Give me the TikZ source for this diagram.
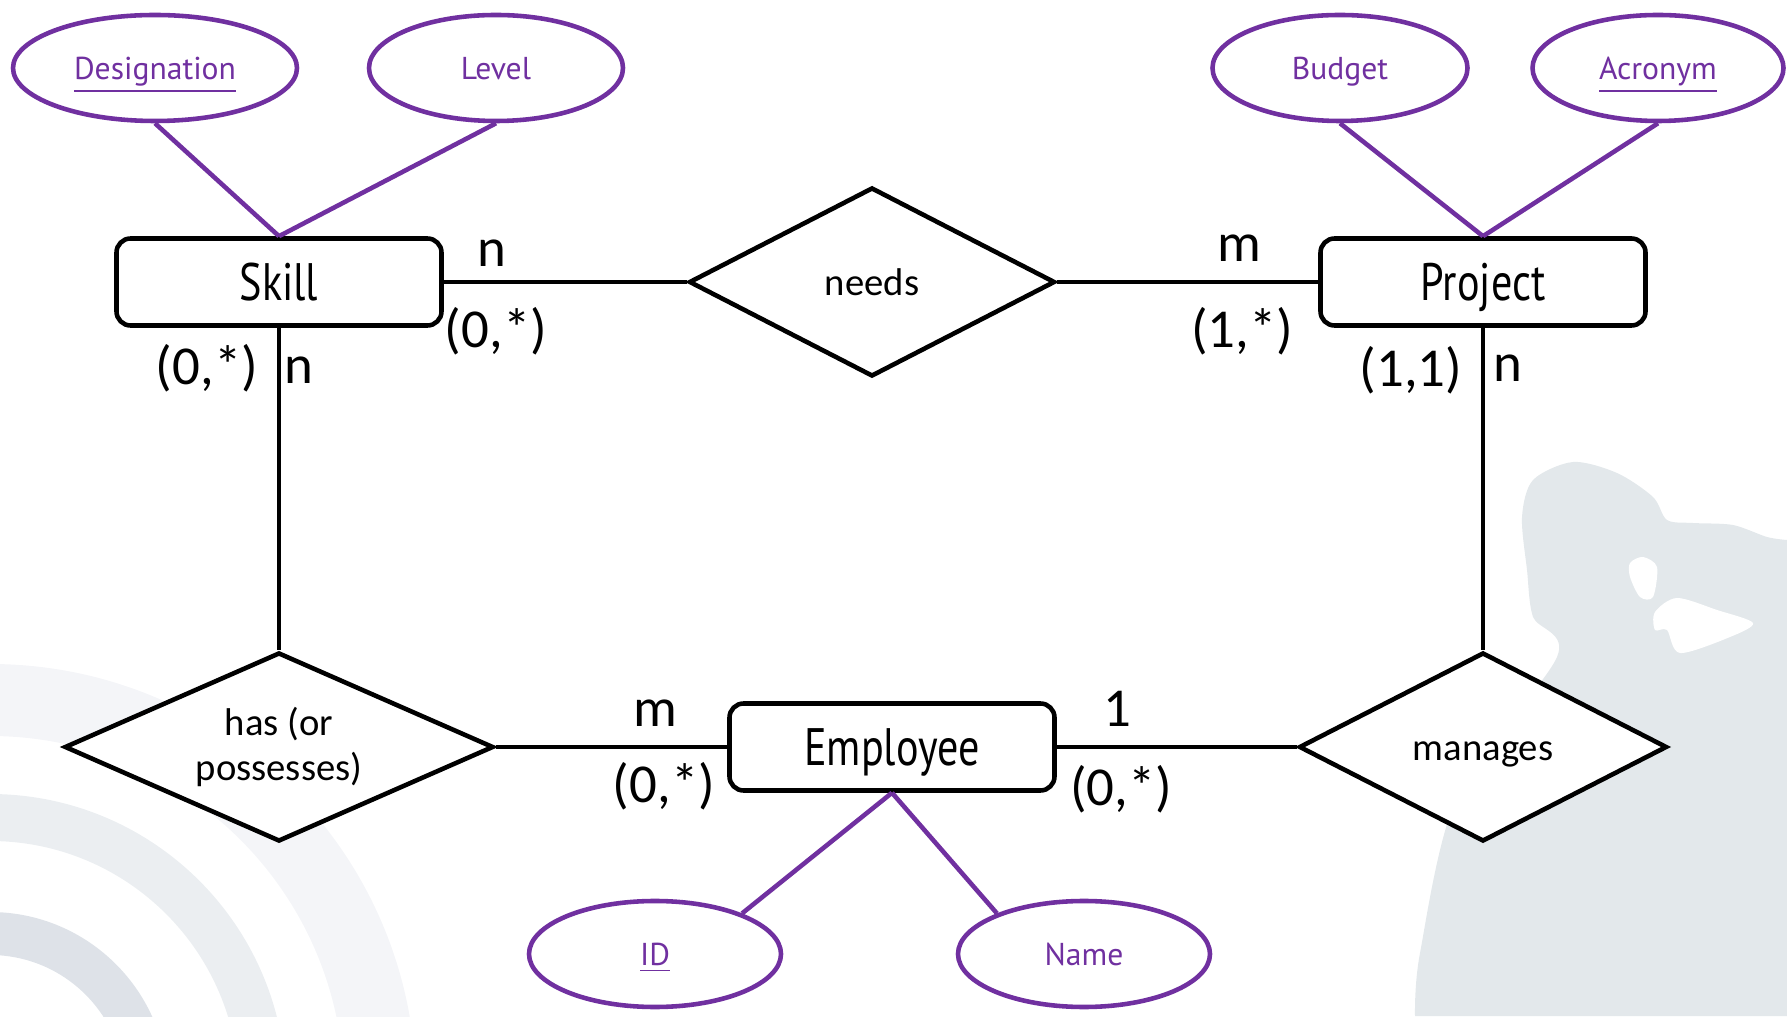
\documentclass[tikz,border=0pt]{standalone}
\usepackage{fontspec}
\usepackage{graphicx}
\setmainfont{PT Sans}
\newfontfamily\calfont{Carlito}
\usetikzlibrary{shapes.geometric,positioning}
\definecolor{erpurple}{HTML}{7030A0}
\definecolor{silgray}{HTML}{E3E8EB}
\definecolor{arcpale}{HTML}{F4F5F8}
\definecolor{arcmid}{HTML}{EBEEF1}
\definecolor{arcdark}{HTML}{DEE2E8}
\newcommand{\narrowtext}[1]{\scalebox{0.8}[1]{#1}}
\tikzset{
  entity/.style={
      draw, line width=1.3pt, rounded corners=4pt, fill=white,
      minimum width=3.25cm, minimum height=0.87cm,
      text height=0.38cm, text depth=0pt,
      font=\fontsize{15}{18}\selectfont
    },
  relship/.style={
      draw, diamond, line width=1.3pt, fill=white, inner sep=0pt,
      align=center, font=\calfont\fontsize{11}{12.6}\selectfont
    },
  attr/.style={
      draw=erpurple, ellipse, line width=1.3pt, fill=white, text=erpurple,
      minimum height=1.06cm, text height=0.30cm, text depth=0.07cm,
      font=\fontsize{9}{11}\selectfont
    },
  card/.style={font=\calfont\fontsize{15.6}{18}\selectfont, inner sep=0pt},
  link/.style={line width=1.2pt},
  attlink/.style={draw=erpurple, line width=1.3pt}
}
\begin{document}
\begin{tikzpicture}
\useasboundingbox (0,0) rectangle (17.87,10.16);
% background
\begin{scope}
\clip (0,0) rectangle (17.87,10.16);
\fill[arcpale, even odd rule] (-0.1,-0.74) circle (4.26) circle (3.54);
\fill[arcmid, even odd rule] (-0.1,-0.74) circle (2.96) circle (2.49);
\fill[arcdark, even odd rule] (-0.1,-0.74) circle (1.78) circle (1.35);
\fill[silgray] plot[smooth] coordinates {(14.15,0) (14.20,0.63) (14.57,2.19)
  (15.57,3.59) (15.33,3.99) (15.27,4.46) (15.22,4.99) (15.33,5.36) (15.73,5.54)
  (16.17,5.43) (16.53,5.19) (16.67,4.96) (16.93,4.93) (17.33,4.91) (17.67,4.79)
  (17.87,4.76)} -- (17.87,0) -- cycle;
\fill[white] plot[smooth cycle] coordinates {(16.30,4.53) (16.43,4.59)
  (16.57,4.49) (16.53,4.19) (16.40,4.19) (16.30,4.39)};
\fill[white] plot[smooth cycle] coordinates {(16.55,4.04) (16.77,4.18)
  (17.17,4.06) (17.53,3.93) (17.30,3.79) (16.80,3.63) (16.67,3.86) (16.55,3.86)};
\end{scope}

% the shapes
\node[entity] (skill) at (2.79,7.34) {\narrowtext{Skill}};
\node[entity] (project) at (14.83,7.34) {\narrowtext{Project}};
\node[entity] (employee) at (8.92,2.69) {\narrowtext{Employee}};
\node[relship, aspect=1.92, minimum width=3.66cm, minimum height=1.89cm]
  (needs) at (8.72,7.34) {needs};
\node[relship, aspect=2.27, minimum width=4.29cm, minimum height=1.89cm]
  (has) at (2.79,2.69) {has (or\\possesses)};
\node[relship, aspect=1.93, minimum width=3.68cm, minimum height=1.89cm,
  text height=0.27cm, text depth=0pt]
  (manages) at (14.83,2.69) {manages};

\node[attr, minimum width=2.84cm] (desig) at (1.55,9.48) {\underline{Designation}};
\node[attr, minimum width=2.54cm] (level) at (4.96,9.48) {Level};
\node[attr, minimum width=2.55cm] (budget) at (13.40,9.48) {Budget};
\node[attr, minimum width=2.51cm] (acronym) at (16.58,9.48) {\underline{Acronym}};
\node[attr, minimum width=2.52cm] (id) at (6.55,0.62) {\underline{ID}};
\node[attr, minimum width=2.52cm] (name) at (10.84,0.62) {Name};

% the lines
\draw[link] (skill) -- (needs);
\draw[link] (needs) -- (project);
\draw[link] (skill) -- (has);
\draw[link] (has) -- (employee);
\draw[link] (employee) -- (manages);
\draw[link] (project) -- (manages);
\draw[attlink] (desig.south) -- (skill.north);
\draw[attlink] (level.south) -- (skill.north);
\draw[attlink] (budget.south) -- (project.north);
\draw[attlink] (acronym.south) -- (project.north);
\draw[attlink] (id.25) -- (employee.south);
\draw[attlink] (name.155) -- (employee.south);

% cardinalities
\node[card] (skneedsn) at (4.92,7.63) {n};
\node[card] (skneedsc) at (4.96,6.85) {(0,*)};
\node[card] (prneedsm) at (12.39,7.68) {m};
\node[card] (prneedsc) at (12.42,6.85) {(1,*)};
\node[card] (skhasc) at (2.07,6.48) {(0,*)};
\node[card] (skhasn) at (2.99,6.46) {n};
\node[card] (prmanc) at (14.11,6.46) {(1,1)};
\node[card] (prmann) at (15.08,6.48) {n};
\node[card] (emhasm) at (6.55,3.03) {m};
\node[card] (emhasc) at (6.64,2.30) {(0,*)};
\node[card] (emmano) at (11.17,3.07) {1};
\node[card] (emmanc) at (11.21,2.27) {(0,*)};
\end{tikzpicture}
\end{document}
